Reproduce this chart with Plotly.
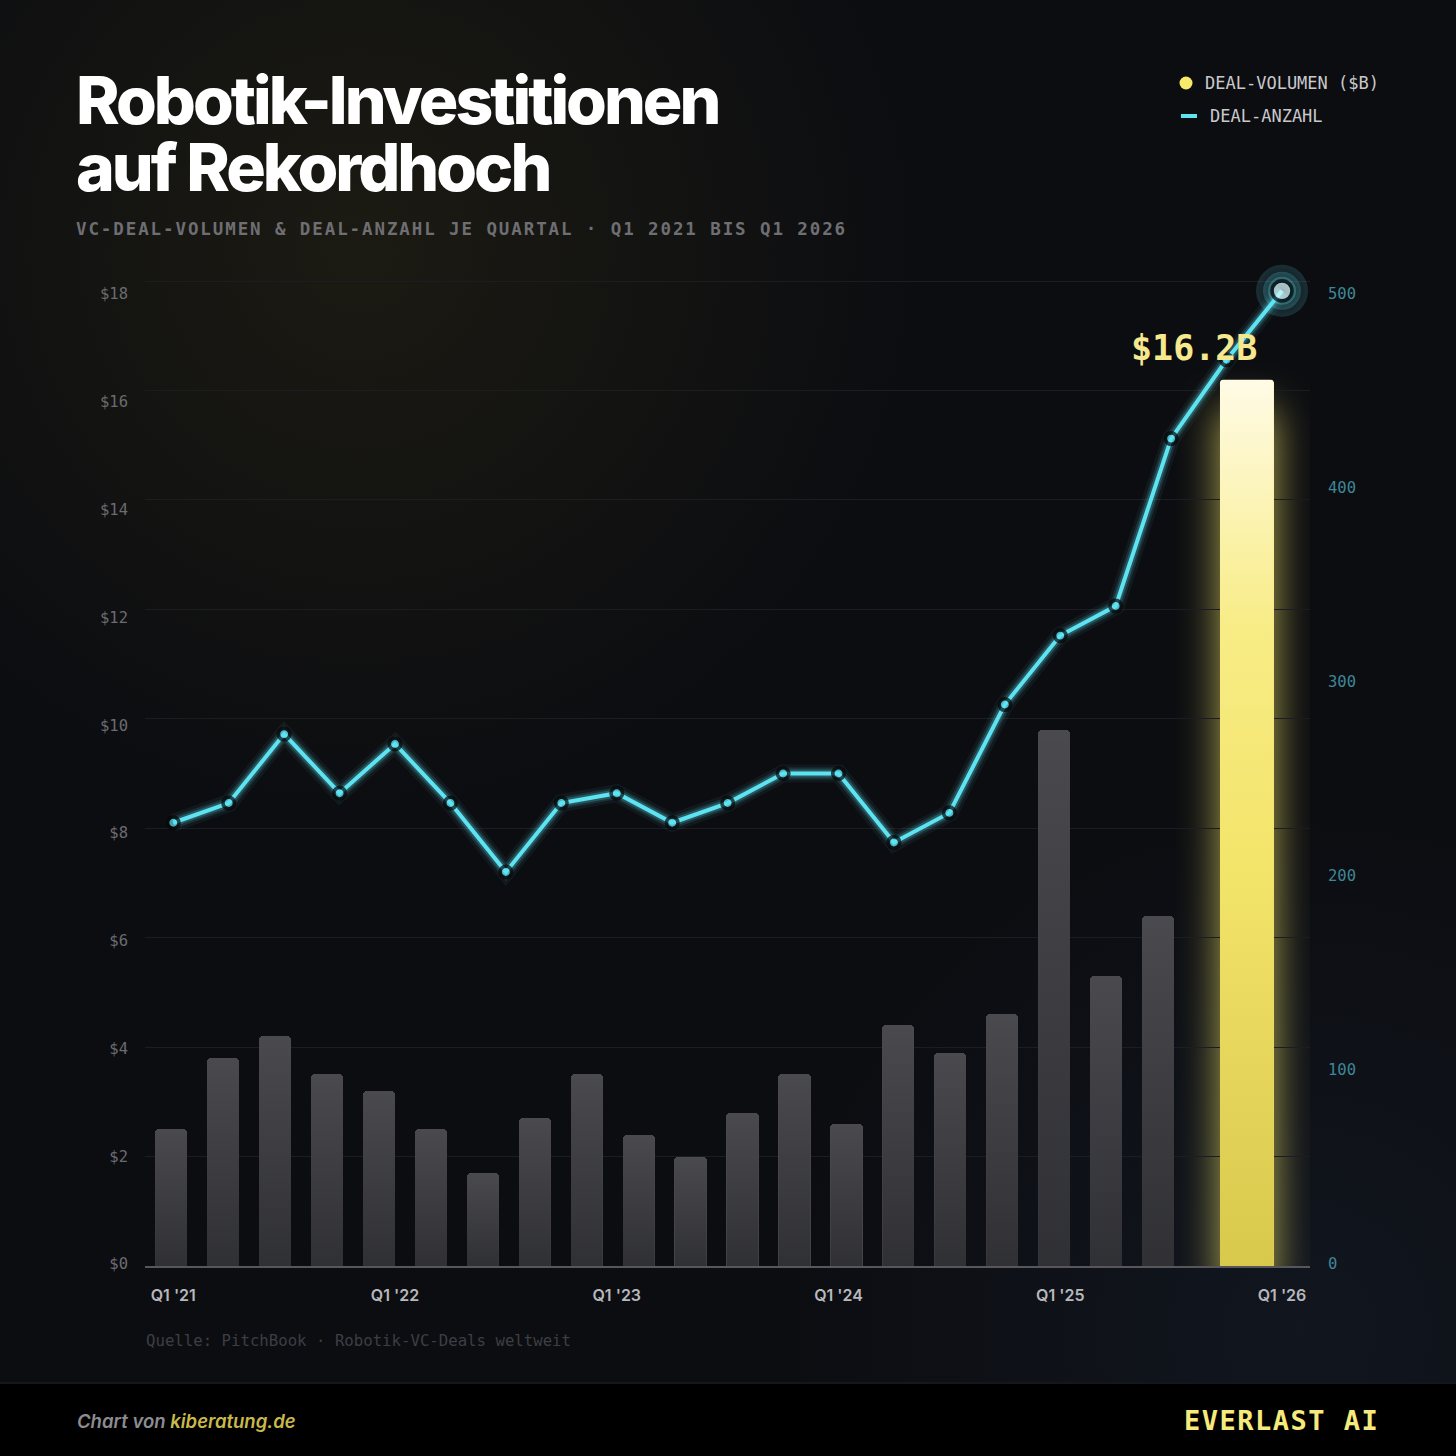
import base64
import plotly.graph_objects as go

# ---------------- data ----------------
quarters = ["Q1 '21", "Q2 '21", "Q3 '21", "Q4 '21", "Q1 '22", "Q2 '22", "Q3 '22", "Q4 '22",
            "Q1 '23", "Q2 '23", "Q3 '23", "Q4 '23", "Q1 '24", "Q2 '24", "Q3 '24", "Q4 '24",
            "Q1 '25", "Q2 '25", "Q3 '25", "Q4 '25", "Q1 '26"]
volume_bn = [2.5, 3.8, 4.2, 3.5, 3.2, 2.5, 1.7, 2.7, 3.5, 2.4, 2.0, 2.8, 3.5, 2.6, 4.4, 3.9,
             4.6, 9.8, 5.3, 6.4, 16.2]
deal_count = [225, 235, 270, 240, 265, 235, 200, 235, 240, 225, 235, 250, 250, 215, 230, 285,
              320, 335, 420, 460, 495]
vol_tickvals = [0, 2, 4, 6, 8, 10, 12, 14, 16, 18]
vol_ticktext = ["$0", "$2", "$4", "$6", "$8", "$10", "$12", "$14", "$16", "$18"]
count_tickvals = [0, 100, 200, 300, 400, 500]
x_tick_idx = [0, 4, 8, 12, 16, 20]

title_1 = "Robotik-Investitionen"
title_2 = "auf Rekordhoch"
subtitle = "VC-DEAL-VOLUMEN &amp; DEAL-ANZAHL JE QUARTAL · Q1 2021 BIS Q1 2026"
legend_vol = "DEAL-VOLUMEN ($B)"
legend_cnt = "DEAL-ANZAHL"
source = "Quelle: PitchBook · Robotik-VC-Deals weltweit"
highlight_label = "$16.2B"

# ---------------- style ----------------
W = H = 1456
GRID_TOP = 281                 # pixel row of the top gridline
PL, PR, PT, PB = 145, 1310, GRID_TOP - 3, 1266
BG = "#0c0d11"
CYAN = "#5ee3f2"
MONO = "DejaVu Sans Mono"
SANS = "Inter"

vol_px = (PB - GRID_TOP) / 18.0      # px per $B
cnt_px = (PB - GRID_TOP) / 500.0     # px per deal
VOL_RANGE = [0, (PB - PT) / vol_px]
CNT_RANGE = [0, (PB - PT) / cnt_px]
BAR_XRANGE = [-0.504, 21.925]
LINE_XRANGE = [-0.51, 20.505]
# tick labels sit on a slightly tighter scale than the grid in the original
lab_zero = 1268
lab_vol_px = (lab_zero - 294) / 18.0
lab_cnt_px = (lab_zero - 294) / 500.0
VOL_LABEL_RANGE = [(lab_zero - PB) / -lab_vol_px, (lab_zero - PT) / lab_vol_px]
CNT_LABEL_RANGE = [(lab_zero - PB) / -lab_cnt_px, (lab_zero - PT) / lab_cnt_px]

XPX = (PR - PL) / (BAR_XRANGE[1] - BAR_XRANGE[0])   # px per bar-axis unit
YPX = vol_px


def px(x):
    return (x - PL) / (PR - PL)


def py(y):
    return (PB - y) / (PB - PT)


def svg_uri(svg):
    return "data:image/svg+xml;base64," + base64.b64encode(svg.encode()).decode()


n = len(quarters)
idx = list(range(n))
hl = n - 1
GREY_W = 0.62
HL_W, HL_OFF = 1.04, 0.19

fig = go.Figure()

# grey bars
fig.add_trace(go.Bar(
    x=idx[:hl], y=volume_bn[:hl], xaxis="x", yaxis="y", width=GREY_W,
    marker=dict(color="#4a4a4e", cornerradius=4, line=dict(width=0)),
    hoverinfo="skip", showlegend=False))

# highlight bar
fig.add_trace(go.Bar(
    x=[idx[hl]], y=[volume_bn[hl]], xaxis="x", yaxis="y", width=HL_W, offset=HL_OFF,
    marker=dict(color="#f2e266", cornerradius=4, line=dict(width=0)),
    hoverinfo="skip", showlegend=False))

# line glow
for w, a in [(18, 0.06), (12, 0.12), (8, 0.22)]:
    fig.add_trace(go.Scatter(
        x=idx, y=deal_count, xaxis="x2", yaxis="y2", mode="lines",
        line=dict(color=f"rgba(94,227,242,{a})", width=w),
        hoverinfo="skip", showlegend=False, cliponaxis=False))

# soft glow of the last point
for s, a in [(52, 0.16), (38, 0.22), (28, 0.3)]:
    fig.add_trace(go.Scatter(
        x=[idx[hl]], y=[deal_count[hl]], xaxis="x2", yaxis="y2", mode="markers",
        marker=dict(size=s, color=f"rgba(94,227,242,{a})", line=dict(width=0),
                    gradient=dict(type="radial", color="rgba(94,227,242,0)")),
        hoverinfo="skip", showlegend=False, cliponaxis=False))

fig.add_trace(go.Scatter(
    x=idx, y=deal_count, xaxis="x2", yaxis="y2", mode="lines+markers",
    line=dict(color=CYAN, width=4),
    marker=dict(size=[11.5] * (n - 1) + [20], color=[CYAN] * (n - 1) + ["#dcf8fe"],
                line=dict(color="#050608", width=3.6)),
    hoverinfo="skip", showlegend=False, cliponaxis=False))

# empty traces that carry the tick-label axes
fig.add_trace(go.Scatter(x=[], y=[], xaxis="x", yaxis="y3", mode="markers",
                         hoverinfo="skip", showlegend=False))
fig.add_trace(go.Scatter(x=[], y=[], xaxis="x", yaxis="y4", mode="markers",
                         hoverinfo="skip", showlegend=False))

# ---------------- images (background, glow, gradients) ----------------
bg_svg = f"""<svg xmlns="http://www.w3.org/2000/svg" width="{W}" height="{H}" viewBox="0 0 {W} {H}" preserveAspectRatio="none">
<defs>
<radialGradient id="a" cx="360" cy="250" r="560" gradientUnits="userSpaceOnUse">
<stop offset="0" stop-color="#2e2a14" stop-opacity="0.45"/><stop offset="1" stop-color="#2e2a14" stop-opacity="0"/></radialGradient>
<radialGradient id="b" cx="1300" cy="1330" r="520" gradientUnits="userSpaceOnUse">
<stop offset="0" stop-color="#1a2638" stop-opacity="0.35"/><stop offset="1" stop-color="#1a2638" stop-opacity="0"/></radialGradient>
</defs>
<rect width="{W}" height="{H}" fill="{BG}"/>
<rect width="{W}" height="{H}" fill="url(#a)"/>
<rect width="{W}" height="{H}" fill="url(#b)"/>
<rect x="0" y="1383" width="{W}" height="{H-1383}" fill="#000000"/>
<rect x="0" y="1382" width="{W}" height="2" fill="#16171c"/>
</svg>"""

hl_w_px = HL_W * XPX
hl_h_px = volume_bn[hl] * YPX
GP = 90  # glow padding in px
glow_svg = f"""<svg xmlns="http://www.w3.org/2000/svg" width="{hl_w_px + 2*GP:.1f}" height="{hl_h_px + 2*GP:.1f}" viewBox="0 0 {hl_w_px + 2*GP:.1f} {hl_h_px + 2*GP:.1f}" preserveAspectRatio="none">
<defs><filter id="f" x="-80%" y="-10%" width="260%" height="120%"><feGaussianBlur stdDeviation="20"/></filter></defs>
<rect x="{GP}" y="{GP + 30}" width="{hl_w_px:.1f}" height="{hl_h_px:.1f}" fill="#f7e96a" fill-opacity="0.7" filter="url(#f)"/>
</svg>"""

hl_svg = f"""<svg xmlns="http://www.w3.org/2000/svg" width="{hl_w_px:.1f}" height="{hl_h_px:.1f}" viewBox="0 0 {hl_w_px:.1f} {hl_h_px:.1f}" preserveAspectRatio="none">
<defs><linearGradient id="g" x1="0" y1="0" x2="0" y2="1">
<stop offset="0" stop-color="#fffbe6"/><stop offset="0.28" stop-color="#f8ec86"/>
<stop offset="0.55" stop-color="#f3e46a"/><stop offset="1" stop-color="#d8c84c"/></linearGradient></defs>
<path d="M0,{hl_h_px:.1f} L0,4 Q0,0 4,0 L{hl_w_px-4:.1f},0 Q{hl_w_px:.1f},0 {hl_w_px:.1f},4 L{hl_w_px:.1f},{hl_h_px:.1f} Z" fill="url(#g)"/>
</svg>"""

shade_svg = f"""<svg xmlns="http://www.w3.org/2000/svg" width="10" height="100" viewBox="0 0 10 100" preserveAspectRatio="none">
<defs><linearGradient id="s" x1="0" y1="0" x2="0" y2="1">
<stop offset="0" stop-color="{BG}" stop-opacity="0"/><stop offset="1" stop-color="{BG}" stop-opacity="0.42"/></linearGradient></defs>
<rect width="10" height="100" fill="url(#s)"/>
</svg>"""

images = [
    dict(source=svg_uri(bg_svg), xref="paper", yref="paper", x=px(0), y=py(0),
         sizex=W / (PR - PL), sizey=H / (PB - PT), xanchor="left", yanchor="top",
         sizing="stretch", layer="below"),
    dict(source=svg_uri(glow_svg), xref="x", yref="y", x=idx[hl] + HL_OFF - GP / XPX,
         y=volume_bn[hl] + GP / YPX, sizex=HL_W + 2 * GP / XPX, sizey=volume_bn[hl] + 2 * GP / YPX,
         xanchor="left", yanchor="top", sizing="stretch", layer="below"),
    dict(source=svg_uri(hl_svg), xref="x", yref="y", x=idx[hl] + HL_OFF, y=volume_bn[hl],
         sizex=HL_W, sizey=volume_bn[hl], xanchor="left", yanchor="top",
         sizing="stretch", layer="above"),
]
shade_uri = svg_uri(shade_svg)
for i in idx[:hl]:
    images.append(dict(source=shade_uri, xref="x", yref="y", x=i - GREY_W / 2, y=volume_bn[i],
                       sizex=GREY_W, sizey=volume_bn[i], xanchor="left", yanchor="top",
                       sizing="stretch", layer="above"))

# ---------------- annotations ----------------
big = "font-size:66px;letter-spacing:-3px"
ann = []
ann.append(dict(text=f"<span style='{big}'>{title_1}</span><br><span style='{big}'>{title_2}</span>",
                xref="paper", yref="paper", x=px(74), y=py(134), xanchor="left", yanchor="middle",
                align="left", showarrow=False,
                font=dict(family=SANS, size=51.5, color="#ffffff", weight=800)))
ann.append(dict(text=f"<span style='letter-spacing:1.9px'>{subtitle}</span>", xref="paper", yref="paper",
                x=px(74), y=py(229), xanchor="left", yanchor="middle", showarrow=False,
                font=dict(family=MONO, size=17.5, color="#6e6e73", weight="bold")))
ann.append(dict(text=legend_vol, xref="paper", yref="paper", x=px(1203), y=py(83),
                xanchor="left", yanchor="middle", showarrow=False,
                font=dict(family=MONO, size=17, color="#c9c9cc")))
ann.append(dict(text=legend_cnt, xref="paper", yref="paper", x=px(1208), y=py(116),
                xanchor="left", yanchor="middle", showarrow=False,
                font=dict(family=MONO, size=17, color="#c9c9cc")))
ann.append(dict(text=source, xref="paper", yref="paper", x=px(144), y=py(1340),
                xanchor="left", yanchor="middle", showarrow=False,
                font=dict(family=MONO, size=15.7, color="#3d3e44")))
ann.append(dict(text=highlight_label, xref="x", yref="y", x=idx[hl], y=volume_bn[hl],
                xanchor="center", yanchor="bottom", xshift=-16, yshift=10, showarrow=False,
                font=dict(family=MONO, size=35, color="#f6e88e", weight="bold")))
ann.append(dict(text="<i>Chart von </i><i><span style='color:#c9b94a'>kiberatung.de</span></i>",
                xref="paper", yref="paper", x=px(75), y=py(1421), xanchor="left", yanchor="middle",
                showarrow=False, font=dict(family=SANS, size=18.5, color="#8c8c90", weight=600)))
ann.append(dict(text="<span style='letter-spacing:1.5px'>EVERLAST AI</span>", xref="paper", yref="paper",
                x=px(1381), y=py(1420), xanchor="right", yanchor="middle", showarrow=False,
                font=dict(family=MONO, size=27, color="#f7ea7c", weight="bold")))

shapes = [
    dict(type="circle", xref="paper", yref="paper", x0=px(1179.5), x1=px(1192.5),
         y0=py(89.5), y1=py(76.5), fillcolor="#f7e96a", line=dict(width=0)),
    dict(type="line", xref="paper", yref="paper", x0=px(1181), x1=px(1197),
         y0=py(116), y1=py(116), line=dict(color=CYAN, width=4)),
]

fig.update_layout(
    width=W, height=H, autosize=False,
    margin=dict(l=PL, r=W - PR, t=PT, b=H - PB, pad=0),
    paper_bgcolor=BG, plot_bgcolor="rgba(0,0,0,0)",
    barmode="overlay", bargap=0,
    showlegend=False,
    images=images, annotations=ann, shapes=shapes,
    xaxis=dict(range=BAR_XRANGE, showgrid=False, zeroline=False, showticklabels=False,
               showline=True, linecolor="#56565b", linewidth=2, ticks="", fixedrange=True),
    xaxis2=dict(overlaying="x", side="bottom", range=LINE_XRANGE, showgrid=False,
                zeroline=False, showline=False, ticks="",
                tickvals=[idx[i] for i in x_tick_idx], ticktext=[quarters[i] for i in x_tick_idx],
                tickfont=dict(family=SANS, size=16, color="#b8b8bc", weight=600),
                ticklabelstandoff=18, fixedrange=True),
    yaxis=dict(range=VOL_RANGE, tickvals=vol_tickvals, showticklabels=False,
               showgrid=True, gridcolor="#1c1d22", gridwidth=1, zeroline=False, showline=False,
               ticks="", fixedrange=True),
    yaxis2=dict(overlaying="y", side="right", range=CNT_RANGE, showticklabels=False,
                showgrid=False, zeroline=False, showline=False, ticks="", fixedrange=True),
    yaxis3=dict(overlaying="y", side="left", anchor="x", range=VOL_LABEL_RANGE,
                tickvals=vol_tickvals, ticktext=vol_ticktext,
                showgrid=False, zeroline=False, showline=False, ticks="",
                tickfont=dict(family=MONO, size=15.5, color="#6b6b70"),
                ticklabelstandoff=16, fixedrange=True),
    yaxis4=dict(overlaying="y", side="right", anchor="x", range=CNT_LABEL_RANGE,
                tickvals=count_tickvals, showgrid=False, zeroline=False, showline=False, ticks="",
                tickfont=dict(family=MONO, size=15.5, color="#3e8797"),
                ticklabelstandoff=17, fixedrange=True),
)

fig.write_html("out.html", config={"displayModeBar": False})
